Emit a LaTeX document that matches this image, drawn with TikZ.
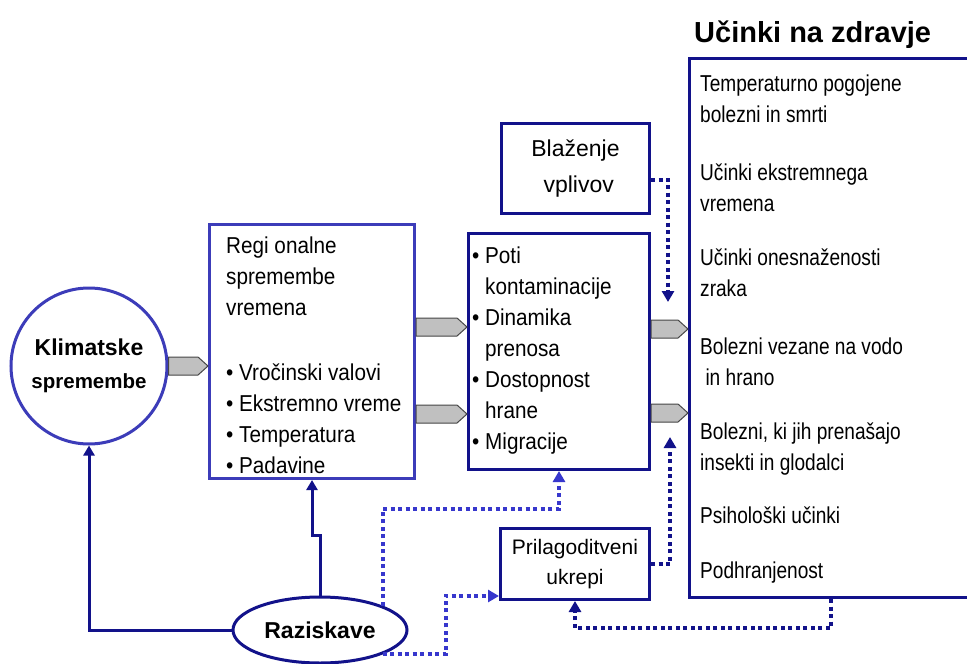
\documentclass[tikz,border=0pt]{standalone}
\usepackage{fontspec}
\setmainfont{Liberation Sans}
\newfontfamily\narrowfont[FakeStretch=0.9]{Liberation Sans}
\newfontfamily\slimfont[FakeStretch=0.83]{Liberation Sans}
\usetikzlibrary{arrows.meta, shapes.geometric, calc}

\definecolor{navyline}{RGB}{18,18,138}
\definecolor{blueline}{RGB}{60,60,185}
\definecolor{dotblue}{RGB}{55,55,205}
\definecolor{arrowgray}{RGB}{192,192,192}

% grey block arrow between two coordinates
\newcommand{\blockarrow}[2]{%
  \filldraw[fill=arrowgray, draw=gray!55!black, line width=1pt]
    ($(#1)+(0,-9)$) -- ($(#2)+(-10,-9)$) -- (#2) -- ($(#2)+(-10,9)$) -- ($(#1)+(0,9)$) -- cycle;}

\begin{document}
\begin{tikzpicture}[x=1pt, y=-1pt,
	frame/.style={draw=navyline, line width=3pt, fill=white, anchor=north west, inner sep=0pt},
	listtext/.style={anchor=north west, align=left, inner sep=0pt, font=\narrowfont\fontsize{23}{31}\selectfont},
	healthtext/.style={anchor=north west, align=left, inner sep=0pt, font=\slimfont\fontsize{23}{31}\selectfont},
	solidarrow/.style={draw=navyline, line width=3pt, -{Triangle[width=11pt,length=10pt]}},
	dotarrow/.style={draw=#1, line width=4pt, dash pattern=on 4pt off 3.5pt, -{Triangle[width=12pt,length=11pt]}},
	dotline/.style={draw=#1, line width=4pt, dash pattern=on 4pt off 3.5pt}]
	\path[fill=white, use as bounding box] (0,0) rectangle (967,664);

	% title and outcome box
	\node[anchor=base west, inner sep=0pt, font=\bfseries\fontsize{29}{34}\selectfont] (title) at (694,42) {Učinki na zdravje};
	\node[frame, minimum width=282, minimum height=539] (health) at (688,57) {};
	\node[healthtext] (h1) at (700,75) {Temperaturno pogojene\\bolezni in smrti};
	\node[healthtext] (h2) at (700,164) {Učinki ekstremnega\\vremena};
	\node[healthtext] (h3) at (700,249) {Učinki onesnaženosti\\zraka};
	\node[healthtext] (h4) at (700,338) {Bolezni vezane na vodo\\\ in hrano};
	\node[healthtext] (h5) at (700,423) {Bolezni, ki jih prenašajo\\insekti in glodalci};
	\node[healthtext] (h6) at (700,507) {Psihološki učinki};
	\node[healthtext] (h7) at (700,562) {Podhranjenost};

	% left part
	\node[circle, draw=blueline, line width=3pt, minimum size=156, inner sep=0pt, align=center,
		font=\bfseries\fontsize{23}{33}\selectfont] (klima) at (89,366) {Klimatske\\{\fontsize{20.5}{33}\selectfont spremembe}};
	\node[frame, draw=blueline, minimum width=205, minimum height=254] (box1) at (208,223) {};
	\node[listtext] (box1txt) at (226,237) {Regi onalne\\spremembe\\vremena\\[34pt]• Vročinski valovi\\• Ekstremno vreme\\• Temperatura\\• Padavine};
	\node[frame, minimum width=181, minimum height=236] (box2) at (467,232) {};
	\node[listtext] (box2txt) at (472,247) {• Poti\\\phantom{•\ }kontaminacije\\• Dinamika\\\phantom{•\ }prenosa\\• Dostopnost\\\phantom{•\ }hrane\\• Migracije};
	\node[frame, minimum width=148, minimum height=90, anchor=north west, align=center,
		font=\fontsize{23}{36}\selectfont] (blaz) at (500,122) {Blaženje\\\ vplivov};
	\node[frame, minimum width=149, minimum height=71, align=center,
		font=\fontsize{21}{30}\selectfont] (prilag) at (499,527) {Prilagoditveni\\ukrepi};
	\node[ellipse, draw=navyline, line width=3pt, fill=white, minimum width=174, minimum height=66, inner sep=0pt,
		font=\bfseries\fontsize{23}{28}\selectfont] (razis) at (320,630) {Raziskave};

	% grey flow arrows
	\coordinate (g0s) at (klima.east);
	\coordinate (g0t) at (box1.west |- klima.east);
	\coordinate (g1s) at (box1.east |- 0,327);
	\coordinate (g1t) at (box2.west |- 0,327);
	\coordinate (g2s) at (box1.east |- 0,414);
	\coordinate (g2t) at (box2.west |- 0,414);
	\coordinate (g3s) at (box2.east |- 0,329);
	\coordinate (g3t) at (health.west |- 0,329);
	\coordinate (g4s) at (box2.east |- 0,413);
	\coordinate (g4t) at (health.west |- 0,413);
	\blockarrow{g0s}{g0t}
	\blockarrow{g1s}{g1t}
	\blockarrow{g2s}{g2t}
	\blockarrow{g3s}{g3t}
	\blockarrow{g4s}{g4t}

	% research links
	\draw[solidarrow] (razis.west) -| (klima.south);
	\draw[solidarrow] (razis.north) -- ++(0,-60) -| (box1.south);
	\draw[dotarrow=dotblue] (razis.north east) -- ++(0,-97) -| (box2.south);
	\draw[dotarrow=dotblue] (razis.south east) -- ++(63,0) |- ($(prilag.south west)+(0,-5)$);

	% mitigation and adaptation links
	\coordinate (mitigend) at (668,302);
	\coordinate (adaptend) at (670,437);
	\draw[dotarrow=navyline] ($(blaz.east)+(0,11)$) -| (mitigend);
	\draw[dotarrow=navyline] (prilag.east) -| (adaptend);
	\draw[dotarrow=navyline] (health.south) -- ++(0,29) -| (prilag.south);
\end{tikzpicture}
\end{document}
